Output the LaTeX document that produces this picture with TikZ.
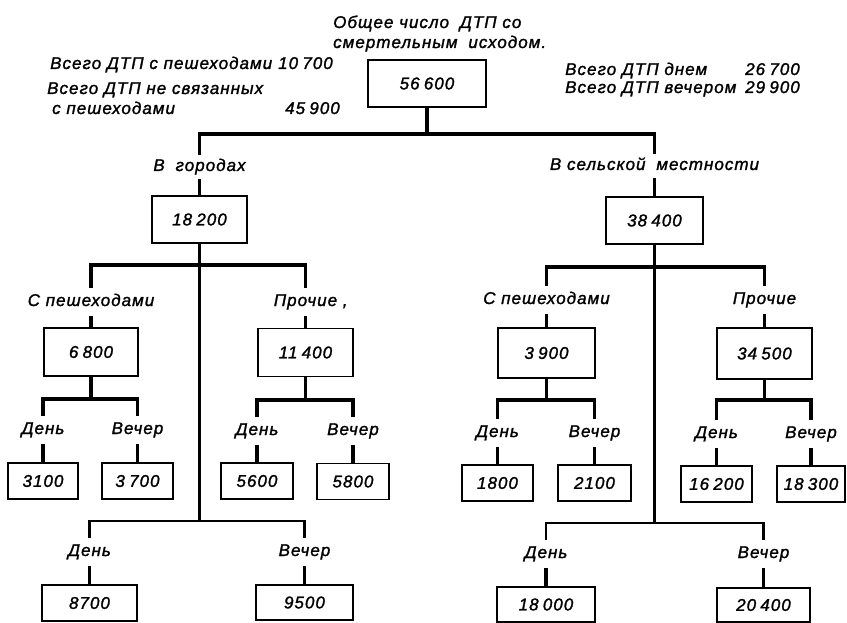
\documentclass[tikz,border=0pt]{standalone}
\usepackage{fontspec}
\setmainfont{Liberation Sans}[LetterSpace=6, ItalicFeatures={FakeBold=1.5}]
\newcommand{\gap}{\hspace{0.25em}}
\begin{document}
\begin{tikzpicture}[x=1pt,y=-1pt,
  font=\itshape\fontsize{17}{20}\selectfont,
  conn/.style={line width=3.4pt},
  trunk/.style={line width=2.6pt},
  numbox/.style={draw, line width=1.6pt, inner sep=0pt, minimum height=36pt},
  bigbox/.style={numbox, minimum height=48pt},
  lbl/.style={inner sep=0pt, text height=11pt, text depth=3pt, outer xsep=0pt, outer ysep=7pt},
  toplbl/.style={lbl, outer ysep=5pt},
  note/.style={inner sep=0pt, anchor=base west},
  noteR/.style={inner sep=0pt, anchor=base east}]
\useasboundingbox (0,0) rectangle (847,623);

% heading and summary notes
\node[note] (title1) at (333,28) {Общее число\hspace{0.3em} ДТП со};
\node[note] (title2) at (333,48) {смертельным\hspace{0.3em} исходом.};
\node[note]  (pedL)  at (50,69)  {Всего ДТП с пешеходами};
\node[noteR] (pedN)  at (333,69) {10\gap700};
\node[note]  (nonL1) at (47,94)  {Всего ДТП не связанных};
\node[note]  (nonL2) at (52,114) {с пешеходами};
\node[noteR] (nonN)  at (340,114) {45\gap900};
\node[note]  (dayL)  at (565,75) {Всего ДТП днем};
\node[noteR] (dayN)  at (800,75) {26\gap700};
\node[note]  (eveL)  at (565,93) {Всего ДТП вечером};
\node[noteR] (eveN)  at (800,93) {29\gap900};

% root
\node[bigbox, minimum width=118pt, minimum height=47pt] (root) at (427,83.5) {56\gap600};

% level 1
\node[toplbl] (lcity)  at (199.5,167) {В\hspace{0.3em} городах};
\node[toplbl] (lrural) at (654.5,166) {В сельской\hspace{0.3em} местности};
\node[bigbox, minimum width=95pt, minimum height=47pt] (city)  at (199.5,219.5) {18\gap200};
\node[bigbox, minimum width=97pt, minimum height=47pt] (rural) at (654.5,220.5) {38\gap400};

% level 2 (city)
\node[lbl] (lcped) at (91,302)    {С пешеходами};
\node[lbl] (lcoth) at (305.5,302) {Прочие\rlap{\ ,}};
\node[bigbox, minimum width=94pt] (cped) at (91,352)    {6\gap800};
\node[bigbox, minimum width=95pt] (coth) at (305.5,352.5) {11\gap400};

% level 2 (rural)
\node[lbl] (lrped) at (546.5,300) {С пешеходами};
\node[lbl] (lroth) at (764.5,300) {Прочие};
\node[bigbox, minimum width=97pt, minimum height=50pt] (rped) at (546.5,353) {3\gap900};
\node[bigbox, minimum width=95pt, minimum height=51pt] (roth) at (764.5,353.5) {34\gap500};

% level 3 labels
\node[lbl] (lcpd) at (43,430)    {День};
\node[lbl] (lcpe) at (137.5,430) {Вечер};
\node[lbl] (lcod) at (257,431)   {День};
\node[lbl] (lcoe) at (353,431)   {Вечер};
\node[lbl] (lrpd) at (497.5,433) {День};
\node[lbl] (lrpe) at (594.5,433) {Вечер};
\node[lbl] (lrod) at (716.5,434) {День};
\node[lbl] (lroe) at (811,434)   {Вечер};

% level 3 boxes
\node[numbox, minimum width=70pt] (cpd) at (43,481)    {3100};
\node[numbox, minimum width=71pt] (cpe) at (137.5,481) {3\gap700};
\node[numbox, minimum width=72pt] (cod) at (257,481)   {5600};
\node[numbox, minimum width=72pt] (coe) at (353,481.5) {5800};
\node[numbox, minimum width=71pt] (rpd) at (497.5,483) {1800};
\node[numbox, minimum width=73pt] (rpe) at (594.5,483) {2100};
\node[numbox, minimum width=71pt] (rod) at (716.5,484) {16\gap200};
\node[numbox, minimum width=68pt] (roe) at (811,484)   {18\gap300};

% day / evening totals per area
\node[lbl] (lcd) at (89.5,552)  {День};
\node[lbl] (lce) at (304.5,552) {Вечер};
\node[lbl] (lrd) at (546,554)   {День};
\node[lbl] (lre) at (763.5,554) {Вечер};
\node[numbox, minimum width=95pt] (cd) at (89.5,603)   {8700};
\node[numbox, minimum width=97pt, minimum height=35pt] (ce) at (304.5,602.5) {9500};
\node[numbox, minimum width=98pt, minimum height=35pt] (rd) at (546,604.5)   {18\gap000};
\node[numbox, minimum width=93pt, minimum height=34pt] (re) at (763.5,605)   {20\gap400};

% junction points of the bars
\coordinate (b0)  at (427,134);
\coordinate (bc)  at (199.5,265);
\coordinate (br)  at (654.5,267);
\coordinate (bcp) at (91,399);
\coordinate (bco) at (305.5,400);
\coordinate (brp) at (546.5,400);
\coordinate (bro) at (764.5,400);
\coordinate (bcb) at (199.5,521);
\coordinate (brb) at (654.5,523);

% connectors
\draw[conn] (root.south) -- (b0);
\draw[conn] (lcity.north) |- (b0) -| (lrural.north);
\draw[conn] (lcity.south) -- (city.north);
\draw[conn] (lrural.south) -- (rural.north);

\draw[trunk] (city.south) -- (bcb);
\draw[trunk] (rural.south) -- (brb);

\draw[conn] (lcped.north) |- (bc) -| (lcoth.north);
\draw[conn] (lrped.north) |- (br) -| (lroth.north);
\draw[conn] (lcped.south) -- (cped.north);
\draw[conn] (lcoth.south) -- (coth.north);
\draw[conn] (lrped.south) -- (rped.north);
\draw[conn] (lroth.south) -- (roth.north);

\draw[conn] (cped.south) -- (bcp);
\draw[conn] (coth.south) -- (bco);
\draw[conn] (rped.south) -- (brp);
\draw[conn] (roth.south) -- (bro);
\draw[conn] (lcpd.north) |- (bcp) -| (lcpe.north);
\draw[conn] (lcod.north) |- (bco) -| (lcoe.north);
\draw[conn] (lrpd.north) |- (brp) -| (lrpe.north);
\draw[conn] (lrod.north) |- (bro) -| (lroe.north);
\draw[conn] (lcpd.south) -- (cpd.north);
\draw[conn] (lcpe.south) -- (cpe.north);
\draw[conn] (lcod.south) -- (cod.north);
\draw[conn] (lcoe.south) -- (coe.north);
\draw[conn] (lrpd.south) -- (rpd.north);
\draw[conn] (lrpe.south) -- (rpe.north);
\draw[conn] (lrod.south) -- (rod.north);
\draw[conn] (lroe.south) -- (roe.north);

\draw[trunk] (lcd.north) |- (bcb) -| (lce.north);
\draw[trunk] (lrd.north) |- (brb) -| (lre.north);
\draw[conn] (lcd.south) -- (cd.north);
\draw[conn] (lce.south) -- (ce.north);
\draw[conn] (lrd.south) -- (rd.north);
\draw[conn] (lre.south) -- (re.north);
\end{tikzpicture}
\end{document}
